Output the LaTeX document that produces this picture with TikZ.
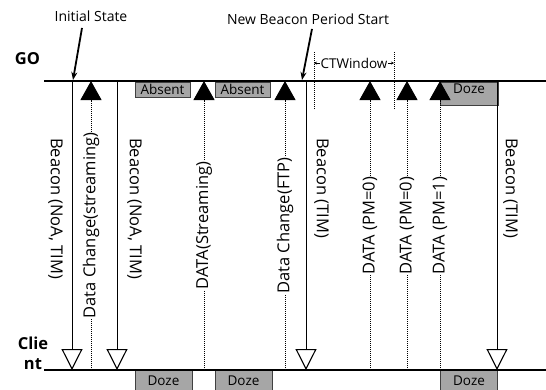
\documentclass[tikz,border=0pt]{standalone}
\usepackage{fontspec}
\setmainfont{Open Sans}
\usetikzlibrary{calc,arrows.meta}

\begin{document}
\begin{tikzpicture}[x=1pt,y=-1pt,>=Latex,
  timeline/.style={line width=1.8pt},
  beacon/.style={line width=1pt,-{Triangle[open,width=21pt,length=21pt,line width=1.1pt]}},
  datamsg/.style={line width=1pt,densely dotted,-{Triangle[width=21pt,length=19pt]}},
  blabel/.style={rotate=-90,inner sep=1pt,font=\fontsize{16.5}{18}\selectfont},
  dlabel/.style={rotate=90,fill=white,inner sep=1pt,font=\fontsize{16.5}{18}\selectfont},
  statebox/.style={draw=black!75,fill=black!35,line width=0.8pt,inner sep=0pt,font=\fontsize{13.5}{15}\selectfont},
  pointer/.style={line width=1.8pt,-{Stealth[length=8pt,width=6pt]}}]
  \clip (0,0) rectangle (546,389);
  % Power save states of GO and client
  \foreach \n/\x/\w/\txt in {1/162.5/55/Absent, 2/242.5/55/Absent} {
    \node (abs\n) [statebox,minimum width=\w pt,minimum height=15pt] at (\x,89.5) {\txt};
  }
  \node (gdoze) [statebox,minimum width=58pt,minimum height=23pt,text depth=10pt] at (469,93.5) {Doze};
  \foreach \n/\x in {1/163.5, 2/243.5, 3/469} {
    \node (cdoze\n) [statebox,minimum width=57pt,minimum height=22pt] at (\x,381) {Doze};
  }
  % Time lines
  \node (go) [font=\fontsize{16.5}{18}\selectfont\bfseries] at (27.5,59) {GO};
  \node (client) [font=\fontsize{16.5}{20}\selectfont\bfseries,align=center,inner sep=0pt] at (33,353) {Clie\\nt};
  \coordinate (goa) at (44,81);
  \coordinate (gob) at (546,81);
  \coordinate (cla) at (44,370);
  \coordinate (clb) at (546,370);
  \draw[timeline] (goa) -- (gob);
  \draw[timeline] (cla) -- (clb);
  % Beacons from GO to client
  \foreach \n/\x/\a/\dx/\txt in {1/72/north west/-8/{Beacon (NoA, TIM)}, 2/117/south west/9/{Beacon (NoA, TIM)},
      3/306/south west/7/{Beacon (TIM)}, 4/497/south west/5/{Beacon (TIM)}} {
    \coordinate (bgo\n) at (\x,81);
    \coordinate (bcl\n) at (\x,370);
    \draw[beacon] (bgo\n) -- (bcl\n);
    \node (blab\n) [blabel,anchor=\a] at (\x+\dx,137) {\txt};
  }
  % Frames from client to GO
  \foreach \n/\x/\txt in {1/91/{Data Change(streaming)}, 2/204/{DATA(Streaming)}, 3/285/{Data Change(FTP)},
      4/370/{DATA (PM=0)}, 5/407/{DATA (PM=0)}, 6/440/{DATA (PM=1)}} {
    \coordinate (dcl\n) at (\x,370);
    \coordinate (dgo\n) at (\x,81);
    \draw[datamsg] (dcl\n) -- (dgo\n) node (dlab\n) [dlabel,pos=0.5] {\txt};
  }
  % CTWindow
  \coordinate (ctla) at (314,52);
  \coordinate (ctlb) at (314,110);
  \coordinate (ctra) at (394,52);
  \coordinate (ctrb) at (394,110);
  \draw[densely dotted,line width=1pt] (ctla) -- (ctlb);
  \draw[densely dotted,line width=1pt] (ctra) -- (ctrb);
  \draw[{Stealth[length=3pt,width=3pt]}-{Stealth[length=3pt,width=3pt]},line width=0.6pt] ($(ctla)!0.19!(ctlb)$) -- ($(ctra)!0.19!(ctrb)$)
    node (ctw) [midway,fill=white,inner sep=0.5pt,font=\fontsize{13.5}{15}\selectfont] {CTWindow};
  % Annotations
  \node (init) [font=\fontsize{14}{16}\selectfont] at (91,16) {Initial State};
  \coordinate (initpt) at (73,80);
  \draw[pointer] ([xshift=-9pt,yshift=-3pt]init.south) -- (initpt);
  \node (newbp) [font=\fontsize{14}{16}\selectfont] at (308,19) {New Beacon Period Start};
  \coordinate (newpt) at (302,80);
  \draw[pointer] ([xshift=4pt,yshift=-1pt]newbp.south) -- (newpt);
\end{tikzpicture}
\end{document}
